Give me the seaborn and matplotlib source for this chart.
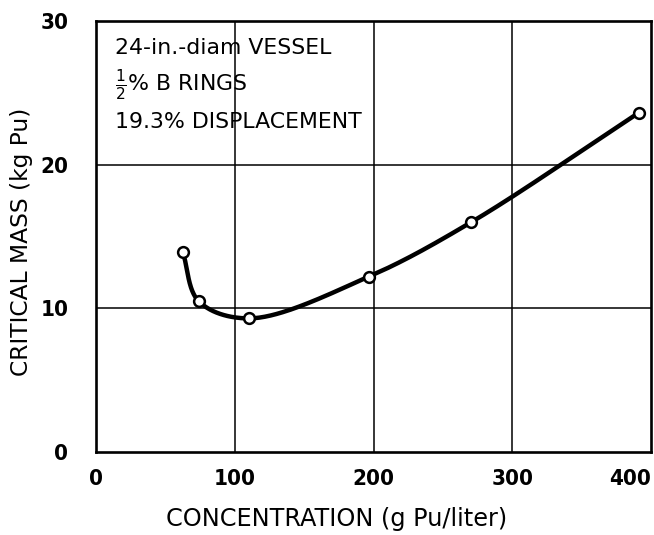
import numpy as np
import matplotlib
matplotlib.use("Agg")
import matplotlib.pyplot as plt
import seaborn as sns
import pandas as pd

# ---- data ----
concentration = [62.5, 74.0, 110.5, 196.5, 270.5, 391.0]   # g Pu/liter
critical_mass = [13.95, 10.5, 9.3, 12.2, 16.0, 23.6]       # kg Pu
x_ticks = [0, 100, 200, 300, 400]
y_ticks = [0, 10, 20, 30]
notes = ["24-in.-diam VESSEL", r"$\frac{1}{2}$% B RINGS", "19.3% DISPLACEMENT"]
x_label = "CONCENTRATION (g Pu/liter)"
y_label = "CRITICAL MASS (kg Pu)"

sns.set_theme(style="white")
plt.rcParams["font.family"] = ["DejaVu Sans"]
plt.rcParams["mathtext.fontset"] = "dejavusans"

fig = plt.figure(figsize=(6.54, 5.35), dpi=100)
ax = fig.add_axes([96/654, 83/535, 555/654, 431/535])

# smooth curve: centripetal Catmull-Rom through the data points (in display-like units)
sx, sy = 555/400, 431/30
P = np.column_stack([np.array(concentration)*sx, np.array(critical_mass)*sy])
ext = np.vstack([2*P[0]-P[1], P, 2*P[-1]-P[-2]])
curve = []
for i in range(1, len(ext)-2):
    p0, p1, p2, p3 = ext[i-1], ext[i], ext[i+1], ext[i+2]
    t0 = 0.0
    t1 = t0 + np.linalg.norm(p1-p0)**0.5
    t2 = t1 + np.linalg.norm(p2-p1)**0.5
    t3 = t2 + np.linalg.norm(p3-p2)**0.5
    t = np.linspace(t1, t2, 60)[:, None]
    A1 = (t1-t)/(t1-t0)*p0 + (t-t0)/(t1-t0)*p1
    A2 = (t2-t)/(t2-t1)*p1 + (t-t1)/(t2-t1)*p2
    A3 = (t3-t)/(t3-t2)*p2 + (t-t2)/(t3-t2)*p3
    B1 = (t2-t)/(t2-t0)*A1 + (t-t0)/(t2-t0)*A2
    B2 = (t3-t)/(t3-t1)*A2 + (t-t1)/(t3-t1)*A3
    C = (t2-t)/(t2-t1)*B1 + (t-t1)/(t2-t1)*B2
    curve.append(C)
curve = np.vstack(curve)
curve_df = pd.DataFrame({"x": curve[:, 0]/sx, "y": curve[:, 1]/sy})
pts_df = pd.DataFrame({"x": concentration, "y": critical_mass})

ax.plot(curve_df["x"], curve_df["y"], color="black", lw=3.2, solid_capstyle="round", zorder=3)
sns.scatterplot(data=pts_df, x="x", y="y", ax=ax, s=60, marker="o", facecolor="white",
                edgecolor="black", linewidth=1.8, zorder=4)

ax.set_xlim(0, 400)
ax.set_ylim(0, 30)
ax.set_xticks(x_ticks)
ax.set_yticks(y_ticks)
tick_kw = dict(fontfamily="DejaVu Sans", fontstretch="condensed", fontweight="bold", fontsize=16)
ax.set_xticklabels([str(v) for v in x_ticks], **tick_kw)
ax.set_yticklabels([str(v) for v in y_ticks], **tick_kw)
ax.get_xticklabels()[-1].set_horizontalalignment("right")
ax.tick_params(axis="both", length=0, colors="black")
ax.tick_params(axis="y", pad=20)
ax.tick_params(axis="x", pad=12)

for v in [100, 200, 300]:
    ax.axvline(v, color="black", lw=1.1, zorder=1)
for v in [10, 20]:
    ax.axhline(v, color="black", lw=1.1, zorder=1)
for sp in ax.spines.values():
    sp.set_color("black")
    sp.set_linewidth(1.9)

ax.set_xlabel("")
ax.set_ylabel("")
fig.text(337/654, 1-519/535, x_label, ha="center", va="center", fontsize=17.3, color="black")
fig.text(22/654, 1-242/535, y_label, ha="center", va="center", rotation=90, fontsize=16.8, color="black")

for i, t in enumerate(notes):
    fig.text(115/654, 1-(48+37*i)/535, t, ha="left", va="center", fontsize=15.8, color="black")

fig.savefig("out.png", dpi=100)
